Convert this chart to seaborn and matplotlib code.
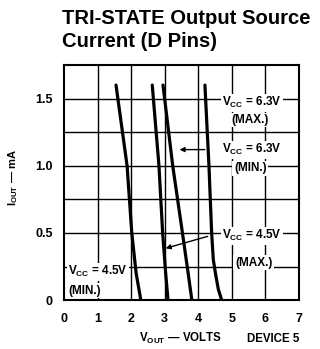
import numpy as np
import pandas as pd
import seaborn as sns
import matplotlib.pyplot as plt

# curves: output voltage (V) vs source current (mA)
cur_a = [1.6, 1.0, 0.5, 0.2, 0.0]
volt_a = [1.55, 1.88, 2.02, 2.15, 2.29]     # Vcc = 4.5V (min)
cur_b = [1.6, 1.0, 0.5, 0.2, 0.0]
volt_b = [2.63, 2.83, 2.94, 3.03, 3.10]     # Vcc = 4.5V (max)
cur_c = [1.6, 1.0, 0.5, 0.2, 0.0]
volt_c = [2.95, 3.24, 3.53, 3.70, 3.81]     # Vcc = 6.3V (min)
cur_d = [1.6, 1.0, 0.5, 0.3, 0.19, 0.08, 0.0]
volt_d = [4.20, 4.32, 4.40, 4.45, 4.52, 4.60, 4.70]  # Vcc = 6.3V (max)

x_ticks = [0, 1, 2, 3, 4, 5, 6, 7]
y_ticks = [0, 0.5, 1.0, 1.5]
y_tick_labels = ['0', '0.5', '1.0', '1.5']

sns.set_style('white')
plt.rcParams['font.family'] = ['Liberation Sans', 'DejaVu Sans']
plt.rcParams['font.weight'] = 'bold'
plt.rcParams['text.color'] = 'black'
plt.rcParams['xtick.color'] = 'black'
plt.rcParams['ytick.color'] = 'black'
plt.rcParams['mathtext.fontset'] = 'custom'
plt.rcParams['mathtext.rm'] = 'Liberation Sans:bold'
plt.rcParams['mathtext.default'] = 'rm'

fig = plt.figure(figsize=(3.2, 3.49), dpi=100)
ax = fig.add_axes([0.2, 0.14, 0.734, 0.674])

# grid: 1 V by 0.25 mA
for v in range(1, 7):
    ax.axvline(v, color='black', lw=1.0, zorder=1)
for c in [0.25, 0.5, 0.75, 1.0, 1.25, 1.5]:
    ax.axhline(c, color='black', lw=1.0, zorder=1)

for volts, cur in [(volt_a, cur_a), (volt_b, cur_b), (volt_c, cur_c), (volt_d, cur_d)]:
    df = pd.DataFrame({'v': volts, 'i': cur})
    sns.lineplot(data=df, x='v', y='i', sort=False, estimator=None,
                 color='black', lw=2.3, ax=ax, zorder=3)

ax.set_xlim(0, 7)
ax.set_ylim(0, 1.75)
ax.set_xticks(x_ticks)
ax.set_xticklabels([str(t) for t in x_ticks], fontsize=9, fontweight='bold')
ax.set_yticks(y_ticks)
ax.set_yticklabels(y_tick_labels, fontsize=9, fontweight='bold')
ax.tick_params(axis='x', length=0, pad=9)
ax.tick_params(axis='y', length=0, pad=8)
for s in ax.spines.values():
    s.set_color('black')
    s.set_linewidth(1.5)
ax.set_xlabel('')
ax.set_ylabel('')

box = dict(facecolor='white', edgecolor='none', pad=1.0)
lab = dict(fontsize=8.5, fontweight='bold', ha='center', va='center', zorder=4, bbox=box)
ax.text(5.6, 1.47, 'V$_{CC}$ = 6.3V', **lab)
ax.text(5.55, 1.34, '(MAX.)', **lab)
ax.text(5.6, 1.12, 'V$_{CC}$ = 6.3V', **lab)
ax.text(5.55, 0.98, '(MIN.)', **lab)
ax.text(5.6, 0.48, 'V$_{CC}$ = 4.5V', **lab)
ax.text(5.65, 0.28, '(MAX.)', **lab)
lab_l = dict(lab, ha='left')
ax.text(0.12, 0.21, 'V$_{CC}$ = 4.5V', **lab_l)
ax.text(0.12, 0.07, '(MIN.)', **lab_l)

arr = dict(arrowstyle='-|>', color='black', lw=1.0, mutation_scale=7)
ax.annotate('', xy=(3.36, 1.12), xytext=(4.28, 1.12), arrowprops=arr, zorder=4)
ax.annotate('', xy=(2.95, 0.38), xytext=(4.36, 0.48), arrowprops=arr, zorder=4)

fig.text(0.195, 0.975, 'TRI-STATE Output Source\nCurrent (D Pins)', fontsize=14.6,
         fontweight='bold', ha='left', va='top', linespacing=1.3)
fig.text(0.04, 0.49, 'I$_{OUT}$ — mA', rotation=90, fontsize=8,
         fontweight='bold', ha='center', va='center')
fig.text(0.565, 0.03, 'V$_{OUT}$ — VOLTS', fontsize=8.3, fontweight='bold',
         ha='center', va='center')
fig.text(0.855, 0.03, 'DEVICE 5', fontsize=8.3, fontweight='bold',
         ha='center', va='center')

fig.savefig('out.png', dpi=100)
